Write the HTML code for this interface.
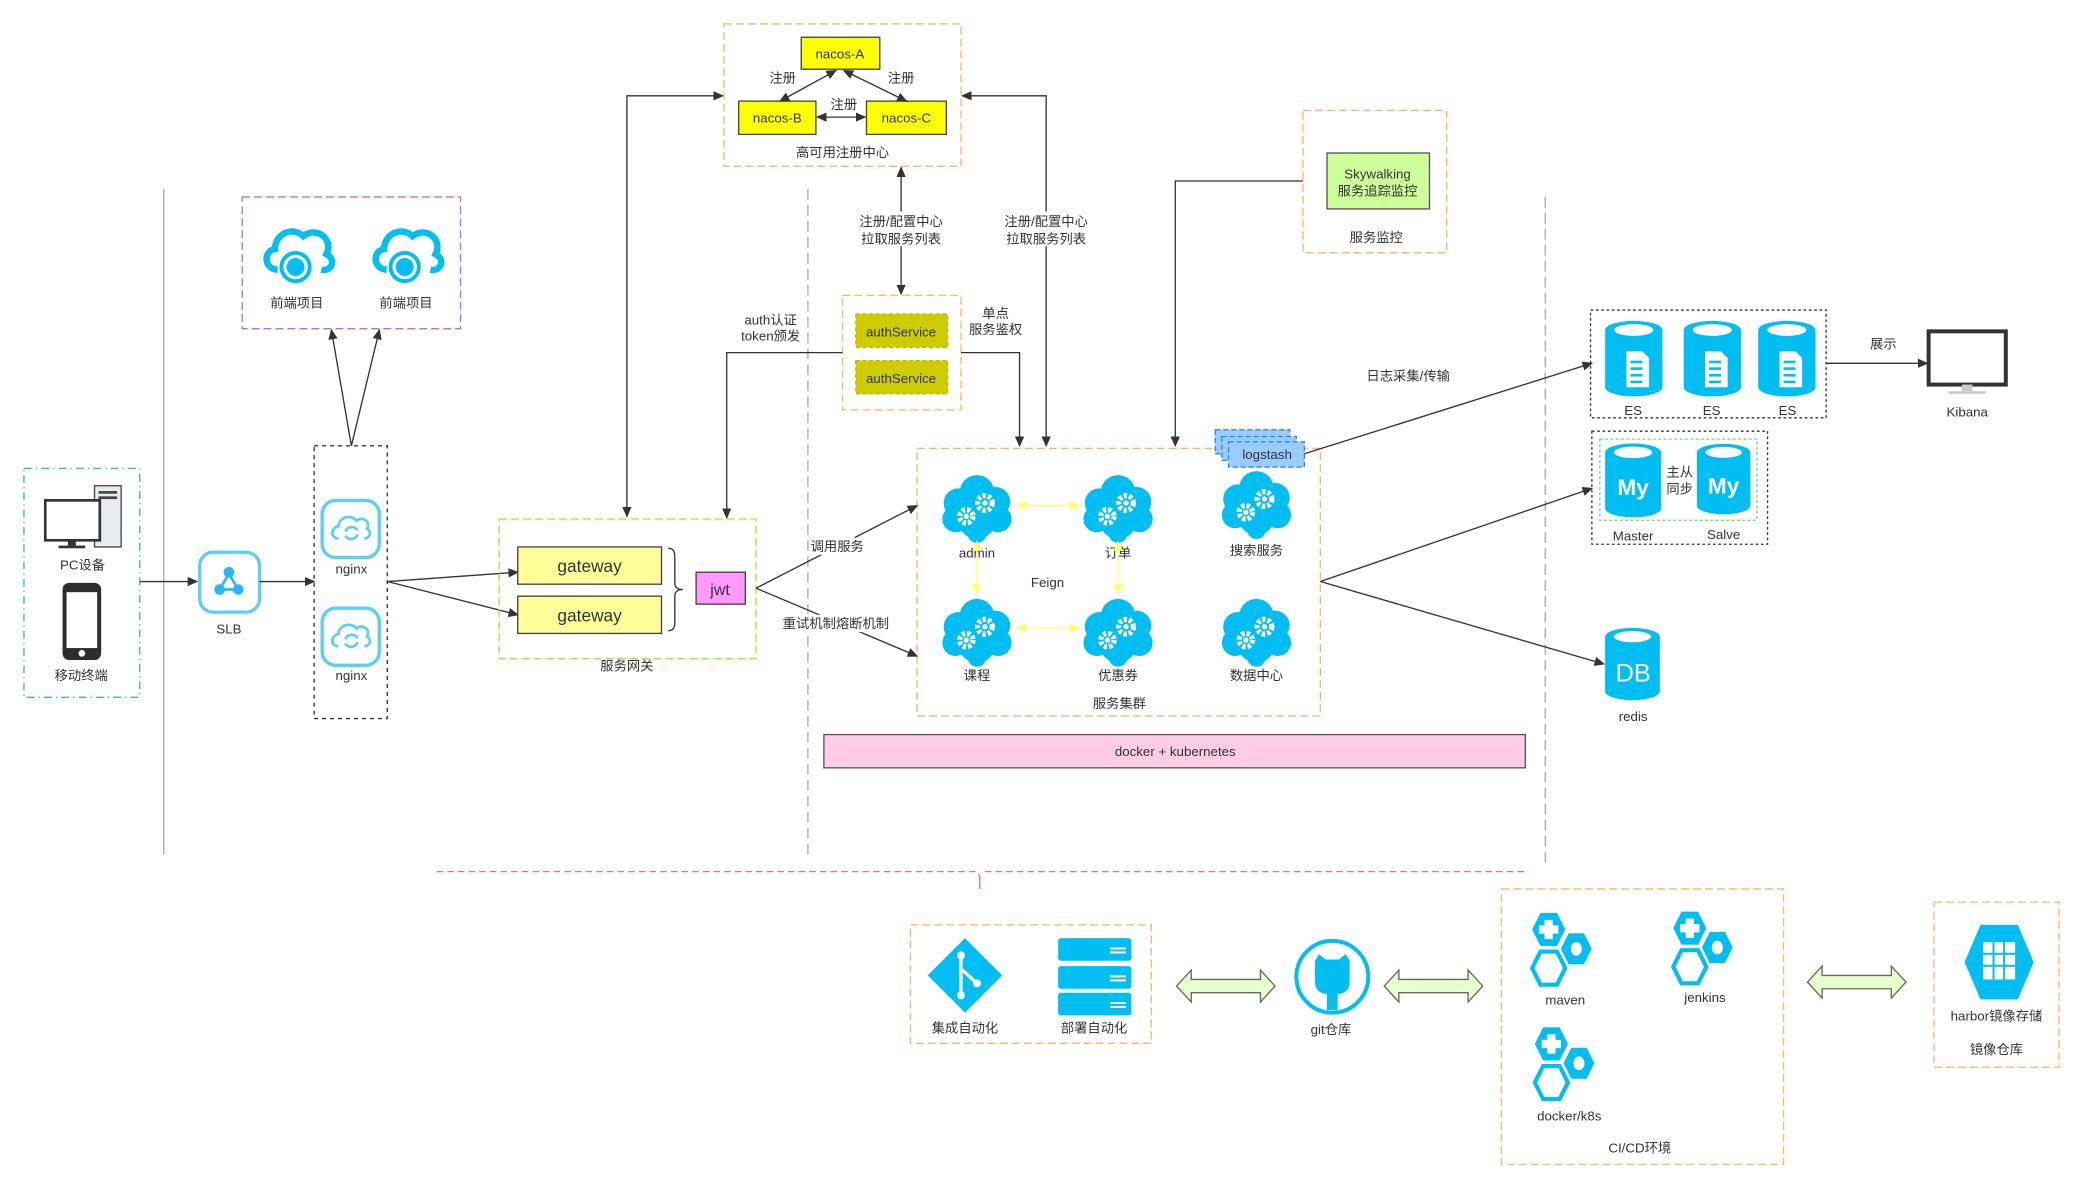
<!DOCTYPE html>
<html><head><meta charset="utf-8"><style>
html,body{margin:0;padding:0;background:#fff;}
svg{display:block;}
text{font-family:"Liberation Sans","Noto Sans CJK SC",sans-serif;font-size:10px;fill:#333;text-anchor:middle;}
</style></head><body>
<svg width="2087" height="1193" viewBox="0 0 1568 896.5" preserveAspectRatio="none" xmlns="http://www.w3.org/2000/svg">
<defs>
<marker id="a" markerWidth="8" markerHeight="8" refX="7" refY="4" orient="auto" markerUnits="userSpaceOnUse"><path d="M0,0.5 L8,4 L0,7.5 Z" fill="#333"/></marker>
<marker id="as" markerWidth="8" markerHeight="8" refX="1" refY="4" orient="auto" markerUnits="userSpaceOnUse"><path d="M8,0.5 L0,4 L8,7.5 Z" fill="#333"/></marker>
<marker id="y" markerWidth="8" markerHeight="8" refX="7" refY="4" orient="auto" markerUnits="userSpaceOnUse"><path d="M0,0.5 L8,4 L0,7.5 Z" fill="#ffff66"/></marker>
<marker id="ys" markerWidth="8" markerHeight="8" refX="1" refY="4" orient="auto" markerUnits="userSpaceOnUse"><path d="M8,0.5 L0,4 L8,7.5 Z" fill="#ffff66"/></marker>
<symbol id="cg" viewBox="0 0 56 56">
<g fill="#00bef2"><circle cx="28" cy="17" r="13"/><circle cx="14" cy="25" r="11"/><circle cx="42" cy="24" r="11"/><circle cx="12" cy="37" r="10"/><circle cx="44" cy="37" r="10"/><circle cx="28" cy="38" r="14"/><circle cx="28" cy="48" r="7"/></g>
<circle cx="20" cy="35" r="5" fill="none" stroke="#fff" stroke-width="4" stroke-dasharray="2.5 1.5"/><circle cx="20" cy="35" r="2" fill="#fff"/>
<circle cx="34" cy="25" r="5.5" fill="none" stroke="#fff" stroke-width="4" stroke-dasharray="2.5 1.5"/><circle cx="34" cy="25" r="2" fill="#fff"/>
</symbol>
<symbol id="cyl" viewBox="0 0 46 60">
<path d="M1,8 A22,7 0 0 1 45,8 L45,52 A22,7 0 0 1 1,52 Z" fill="#00bef2"/>
<ellipse cx="23" cy="8" rx="15" ry="4.5" fill="#fff"/>
</symbol>
<symbol id="hex" viewBox="0 0 56 56">
<path d="M10,2 L22,2 L28,14 L22,26 L10,26 L4,14 Z" fill="#00bef2"/>
<path d="M13,7 h6 v4 h4 v6 h-4 v4 h-6 v-4 h-4 v-6 h4z" fill="#fff"/>
<path d="M30,16 L42,16 L48,28 L42,40 L30,40 L24,28 Z" fill="#00bef2" stroke="#fff" stroke-width="1.5"/>
<ellipse cx="36" cy="28" rx="4" ry="5" fill="#fff"/>
<path d="M10,30 L22,30 L28,42 L22,54 L10,54 L4,42 Z" fill="#fff" stroke="#00bef2" stroke-width="3"/>
</symbol>
<symbol id="cloud" viewBox="0 0 60 52">
<path d="M14,38 C4,38 2,24 12,22 C12,10 26,4 34,12 C44,4 58,14 52,26 C60,30 56,40 48,38" fill="none" stroke="#00bef2" stroke-width="5"/>
<circle cx="28" cy="36" r="11" fill="none" stroke="#00bef2" stroke-width="3"/>
<circle cx="28" cy="36" r="7" fill="#00bef2"/>
</symbol>
<symbol id="ngx" viewBox="0 0 46 46">
<rect x="2" y="2" width="42" height="42" rx="10" fill="#fff" stroke="#5ccff5" stroke-width="2.5"/>
<path d="M14,30 C8,30 8,22 14,21 C14,14 24,12 27,17 C32,13 38,18 35,23 C39,25 37,30 33,30" fill="none" stroke="#5ccff5" stroke-width="2"/>
<path d="M19,25 a5,5 0 0 1 9,-1 M28,27 a5,5 0 0 1 -9,1" fill="none" stroke="#5ccff5" stroke-width="2"/>
</symbol>
<symbol id="dbl" viewBox="0 0 76 26">
<path d="M1,13 L12,1 L12,8 L64,8 L64,1 L75,13 L64,25 L64,18 L12,18 L12,25 Z" fill="#e6ffcc" stroke="#666" stroke-width="1"/>
</symbol>
</defs>

<line x1="123" y1="142" x2="123" y2="642" stroke="#aaa"/>
<line x1="607" y1="142" x2="607" y2="642" stroke="#aaa" stroke-dasharray="8 4"/>
<line x1="1161" y1="148" x2="1161" y2="648" stroke="#aaa" stroke-dasharray="8 4"/>

<rect x="18" y="352" width="87" height="172" fill="none" stroke="#3cb8b0" stroke-dasharray="6 3 1 3"/>
<rect x="71" y="365" width="20" height="46" fill="#e8ecef" stroke="#444"/>
<rect x="74" y="369" width="14" height="2" fill="#444"/><rect x="74" y="373" width="14" height="2" fill="#444"/>
<rect x="34" y="376" width="41" height="30" fill="#fff" stroke="#333" stroke-width="2"/>
<rect x="51" y="406" width="6" height="4" fill="#333"/><rect x="44" y="410" width="20" height="2" fill="#333"/>
<text x="62" y="428">PC设备</text>
<rect x="47" y="438" width="29" height="58" rx="5" fill="#2d2d2d"/>
<rect x="50" y="445" width="23" height="42" fill="#fff"/>
<circle cx="61.5" cy="491" r="2.5" fill="#fff"/>
<text x="61" y="511">移动终端</text>
<line x1="105" y1="437" x2="148" y2="437" stroke="#333" marker-end="url(#a)"/>

<rect x="150" y="415" width="45" height="45" rx="10" fill="#fff" stroke="#5ccff5" stroke-width="2.5"/>
<g stroke="#29b6f6" stroke-width="2"><line x1="172" y1="431" x2="165" y2="443"/><line x1="172" y1="431" x2="179" y2="443"/><line x1="165" y1="443" x2="179" y2="443"/></g>
<circle cx="172" cy="430" r="4" fill="#29b6f6"/><circle cx="165" cy="443" r="4" fill="#29b6f6"/><circle cx="179" cy="443" r="4" fill="#29b6f6"/>
<text x="172" y="476">SLB</text>
<line x1="195" y1="437" x2="236" y2="437" stroke="#333" marker-end="url(#a)"/>

<rect x="236" y="335" width="55" height="205" fill="none" stroke="#333" stroke-dasharray="3 3"/>
<use href="#ngx" x="240" y="374" width="47" height="47"/>
<text x="264" y="431">nginx</text>
<use href="#ngx" x="240" y="455" width="47" height="47"/>
<text x="264" y="511">nginx</text>
<line x1="264" y1="335" x2="249" y2="248" stroke="#333" marker-end="url(#a)"/>
<line x1="264" y1="335" x2="285" y2="248" stroke="#333" marker-end="url(#a)"/>

<rect x="182" y="148" width="164" height="99" fill="none" stroke="#b36bff" stroke-dasharray="6 3"/>
<use href="#cloud" x="195" y="165" width="58" height="52"/>
<use href="#cloud" x="277" y="165" width="58" height="52"/>
<text x="223" y="231">前端项目</text><text x="305" y="231">前端项目</text>

<line x1="291" y1="437" x2="389" y2="430" stroke="#333" marker-end="url(#a)"/>
<line x1="291" y1="437" x2="389" y2="462" stroke="#333" marker-end="url(#a)"/>

<rect x="375" y="390" width="193" height="105" fill="none" stroke="#8cf03c" stroke-dasharray="6 3"/>
<rect x="389" y="411" width="108" height="28" fill="#ffff99" stroke="#444"/>
<text x="443" y="430" style="font-size:13px">gateway</text>
<rect x="389" y="448" width="108" height="28" fill="#ffff99" stroke="#444"/>
<text x="443" y="467" style="font-size:13px">gateway</text>
<path d="M502,412 q5,0 5,6 v20 q0,5 6,5 q-6,0 -6,5 v20 q0,6 -5,6" fill="none" stroke="#333"/>
<rect x="523" y="430" width="37" height="24" fill="#ff99ff" stroke="#444"/>
<text x="541" y="447" style="font-size:12px">jwt</text>
<text x="471" y="504">服务网关</text>

<polyline points="471,388 471,72 543,72" fill="none" stroke="#333" marker-start="url(#as)" marker-end="url(#a)"/>

<rect x="544" y="18" width="178" height="107" fill="none" stroke="#ffb366" stroke-dasharray="6 3"/>
<rect x="602" y="28" width="59" height="24" fill="#ffff00" stroke="#444"/><text x="631" y="44">nacos-A</text>
<rect x="555" y="76" width="58" height="25" fill="#ffff00" stroke="#444"/><text x="584" y="92">nacos-B</text>
<rect x="651" y="76" width="60" height="25" fill="#ffff00" stroke="#444"/><text x="681" y="92">nacos-C</text>
<line x1="586" y1="76" x2="628" y2="53" stroke="#333" marker-start="url(#as)" marker-end="url(#a)"/>
<line x1="681" y1="76" x2="634" y2="53" stroke="#333" marker-start="url(#as)" marker-end="url(#a)"/>
<line x1="614" y1="88" x2="650" y2="88" stroke="#333" marker-start="url(#as)" marker-end="url(#a)"/>
<text x="588" y="62">注册</text><text x="677" y="62">注册</text><text x="634" y="82">注册</text>
<text x="633" y="118">高可用注册中心</text>

<polyline points="723,72 786,72 786,335" fill="none" stroke="#333" marker-start="url(#as)" marker-end="url(#a)"/>
<rect x="754" y="159" width="64" height="26" fill="#fff"/>
<text x="786" y="170">注册/配置中心</text><text x="786" y="183">拉取服务列表</text>
<line x1="677" y1="126" x2="677" y2="221" stroke="#333" marker-start="url(#as)" marker-end="url(#a)"/>
<rect x="645" y="159" width="64" height="26" fill="#fff"/>
<text x="677" y="170">注册/配置中心</text><text x="677" y="183">拉取服务列表</text>

<rect x="633" y="222" width="89" height="86" fill="none" stroke="#ffb366" stroke-dasharray="6 3"/>
<rect x="643" y="236" width="69" height="25" fill="#cccc00" stroke="#bbbb00" stroke-dasharray="3 2"/><text x="677" y="253">authService</text>
<rect x="643" y="271" width="69" height="25" fill="#cccc00" stroke="#bbbb00" stroke-dasharray="3 2"/><text x="677" y="288">authService</text>
<polyline points="633,265 546,265 546,389" fill="none" stroke="#333" marker-end="url(#a)"/>
<text x="579" y="244">auth认证</text><text x="579" y="256">token颁发</text>
<polyline points="722,265 766,265 766,335" fill="none" stroke="#333" marker-end="url(#a)"/>
<text x="748" y="239">单点</text><text x="748" y="251">服务鉴权</text>

<rect x="979" y="83" width="108" height="107" fill="none" stroke="#ffb366" stroke-dasharray="6 3"/>
<rect x="997" y="115" width="77" height="42" fill="#ccff99" stroke="#555"/>
<text x="1035" y="134">Skywalking</text><text x="1035" y="147">服务追踪监控</text>
<text x="1034" y="182">服务监控</text>
<polyline points="979,136 883,136 883,335" fill="none" stroke="#333" marker-end="url(#a)"/>

<rect x="689" y="337" width="303" height="201" fill="none" stroke="#ffb366" stroke-dasharray="6 3"/>
<use href="#cg" x="706" y="353" width="56" height="56"/><text x="734" y="419">admin</text>
<use href="#cg" x="812" y="353" width="56" height="56"/><text x="840" y="419">订单</text>
<use href="#cg" x="916" y="350" width="56" height="56"/><text x="944" y="417">搜索服务</text>
<use href="#cg" x="706" y="446" width="56" height="56"/><text x="734" y="511">课程</text>
<use href="#cg" x="812" y="446" width="56" height="56"/><text x="840" y="511">优惠券</text>
<use href="#cg" x="916" y="446" width="56" height="56"/><text x="944" y="511">数据中心</text>
<text x="787" y="441">Feign</text>
<line x1="764" y1="380" x2="811" y2="380" stroke="#ffff66" marker-start="url(#ys)" marker-end="url(#y)"/>
<line x1="764" y1="472" x2="811" y2="472" stroke="#ffff66" marker-start="url(#ys)" marker-end="url(#y)"/>
<line x1="734" y1="407" x2="734" y2="446" stroke="#ffff66" marker-start="url(#ys)" marker-end="url(#y)"/>
<line x1="840" y1="407" x2="840" y2="446" stroke="#ffff66" marker-start="url(#ys)" marker-end="url(#y)"/>
<text x="841" y="532">服务集群</text>

<rect x="913" y="323" width="56" height="18" fill="#99ccff" stroke="#3388dd" stroke-dasharray="4 2"/>
<rect x="918" y="328" width="56" height="18" fill="#99ccff" stroke="#3388dd" stroke-dasharray="4 2"/>
<rect x="923" y="332" width="57" height="19" fill="#99ccff" stroke="#3388dd" stroke-dasharray="4 2"/>
<text x="952" y="345">logstash</text>

<line x1="568" y1="442" x2="689" y2="380" stroke="#333" marker-end="url(#a)"/>
<line x1="568" y1="442" x2="689" y2="493" stroke="#333" marker-end="url(#a)"/>
<rect x="608" y="404" width="42" height="13" fill="#fff"/><text x="629" y="414">调用服务</text>
<rect x="588" y="462" width="80" height="13" fill="#fff"/><text x="628" y="472">重试机制熔断机制</text>

<rect x="619" y="552" width="527" height="25" fill="#ffcce6" stroke="#555"/>
<text x="883" y="568">docker + kubernetes</text>

<line x1="980" y1="341" x2="1196" y2="273" stroke="#333" marker-end="url(#a)"/>
<text x="1058" y="286">日志采集/传输</text>
<line x1="992" y1="437" x2="1196" y2="367" stroke="#333" marker-end="url(#a)"/>
<line x1="992" y1="437" x2="1205" y2="499" stroke="#333" marker-end="url(#a)"/>

<rect x="1195" y="233" width="177" height="81" fill="none" stroke="#333" stroke-dasharray="2 2"/>
<g id="es"><use href="#cyl" x="1205" y="240" width="45" height="59"/>
<path d="M1222,264 h12 l5,5 v22 h-17z" fill="#fff"/><g fill="#00bef2"><rect x="1225" y="271" width="9" height="2"/><rect x="1225" y="276" width="9" height="2"/><rect x="1225" y="281" width="9" height="2"/><rect x="1225" y="286" width="9" height="2"/></g></g>
<use href="#es" x="59"/><use href="#es" x="115"/>
<text x="1227" y="312">ES</text><text x="1286" y="312">ES</text><text x="1343" y="312">ES</text>
<line x1="1372" y1="273" x2="1448" y2="273" stroke="#333" marker-end="url(#a)"/>
<text x="1415" y="262">展示</text>
<rect x="1449" y="249" width="58" height="40" fill="#fff" stroke="#333" stroke-width="3"/>
<rect x="1474" y="289" width="8" height="5" fill="#ccc"/><rect x="1464" y="294" width="28" height="2" fill="#ccc"/>
<text x="1478" y="313">Kibana</text>

<rect x="1196" y="324" width="132" height="85" fill="none" stroke="#333" stroke-dasharray="2 2"/>
<rect x="1202" y="330" width="118" height="61" fill="none" stroke="#66dd66" stroke-dasharray="2 2"/>
<use href="#cyl" x="1205" y="332" width="44" height="58"/>
<use href="#cyl" x="1274" y="331" width="42" height="58"/>
<text x="1227" y="372" style="font-size:17px;font-weight:bold;fill:#fff">My</text>
<text x="1295" y="371" style="font-size:17px;font-weight:bold;fill:#fff">My</text>
<text x="1262" y="358">主从</text><text x="1262" y="371">同步</text>
<text x="1227" y="406">Master</text><text x="1295" y="405">Salve</text>

<use href="#cyl" x="1205" y="470" width="43" height="58"/>
<text x="1227" y="512" style="font-size:19px;fill:#fff">DB</text>
<text x="1227" y="542">redis</text>

<path d="M328,655 L733,655 Q737,655 736,668 M740,655 L1147,655" fill="none" stroke="#f06aa0" stroke-dasharray="5 3"/>
<line x1="736" y1="658" x2="736" y2="668" stroke="#f06aa0"/>

<rect x="684" y="695" width="181" height="89" fill="none" stroke="#ffb366" stroke-dasharray="6 3"/>
<path d="M725,705 L753,733 L725,761 L697,733 Z" fill="#00bef2"/>
<g stroke="#fff" stroke-width="2.5" fill="none"><line x1="722" y1="718" x2="722" y2="748"/><path d="M722,728 L733,738"/></g>
<circle cx="722" cy="718" r="3" fill="#fff"/><circle cx="722" cy="748" r="3" fill="#fff"/><circle cx="734" cy="739" r="3" fill="#fff"/>
<g fill="#00bef2"><rect x="795" y="705" width="55" height="17" rx="2"/><rect x="795" y="726" width="55" height="17" rx="2"/><rect x="795" y="746" width="55" height="17" rx="2"/></g>
<g fill="#fff"><rect x="834" y="712" width="12" height="1.5"/><rect x="834" y="715" width="12" height="1.5"/><rect x="834" y="733" width="12" height="1.5"/><rect x="834" y="736" width="12" height="1.5"/><rect x="834" y="753" width="12" height="1.5"/><rect x="834" y="756" width="12" height="1.5"/></g>
<text x="725" y="776">集成自动化</text><text x="822" y="776">部署自动化</text>

<use href="#dbl" x="883" y="728" width="76" height="26"/>
<circle cx="1001" cy="734" r="27" fill="#fff" stroke="#00bef2" stroke-width="3"/>
<path d="M988,722 l3,-5 l5,4 h10 l5,-4 l3,5 v16 q0,8 -9,9 v12 h-8 v-12 q-9,-1 -9,-9z" fill="#00bef2"/>
<text x="1000" y="777">git仓库</text>
<use href="#dbl" x="1039" y="728" width="76" height="26"/>

<rect x="1128" y="668" width="212" height="207" fill="none" stroke="#ffb366" stroke-dasharray="6 3"/>
<use href="#hex" x="1146" y="684" width="60" height="58"/><text x="1176" y="755">maven</text>
<use href="#hex" x="1252" y="683" width="60" height="58"/><text x="1281" y="753">jenkins</text>
<use href="#hex" x="1148" y="770" width="60" height="58"/><text x="1179" y="842">docker/k8s</text>
<text x="1232" y="866">CI/CD环境</text>

<use href="#dbl" x="1357" y="725" width="76" height="26"/>

<rect x="1453" y="678" width="94" height="124" fill="none" stroke="#ffb366" stroke-dasharray="6 3"/>
<path d="M1488,695 L1516,695 L1528,723 L1516,751 L1488,751 L1476,723 Z" fill="#00bef2"/>
<g fill="#fff"><rect x="1490" y="708" width="24" height="28" /></g>
<g fill="#00bef2"><rect x="1497" y="708" width="1.5" height="28"/><rect x="1505" y="708" width="1.5" height="28"/><rect x="1490" y="716" width="24" height="1.5"/><rect x="1490" y="725" width="24" height="1.5"/></g>
<text x="1500" y="767">harbor镜像存储</text>
<text x="1500" y="792">镜像仓库</text>
</svg>
</body></html>
